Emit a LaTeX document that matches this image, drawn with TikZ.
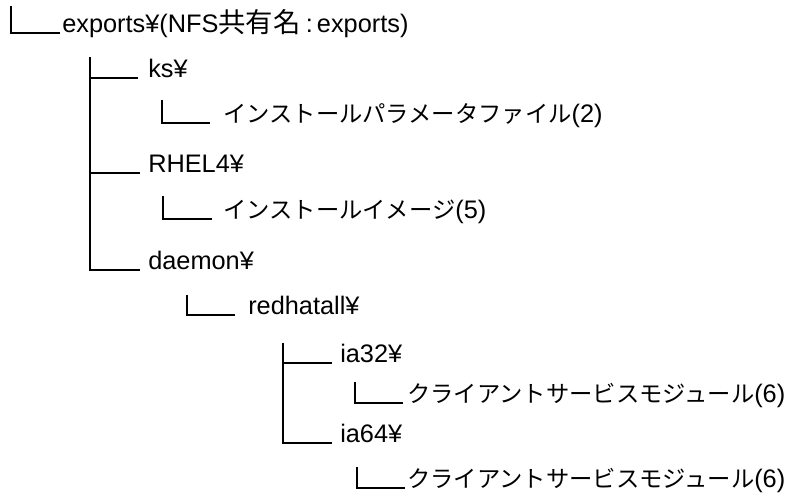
\documentclass[tikz,border=0pt]{standalone}
\usepackage{fontspec}
\setmainfont{Liberation Sans}
\newfontfamily\jp[Scale=0.92]{Noto Sans CJK JP}
\newfontfamily\kanji[Scale=1.08]{Noto Sans CJK JP}
\usetikzlibrary{positioning}

\tikzset{
  dir/.style={anchor=base west, inner sep=0pt, font=\fontsize{19}{23}\selectfont},
  tree/.style={line width=1pt},
}

\begin{document}
\begin{tikzpicture}[x=0.75pt,y=-0.75pt]
  \useasboundingbox (0,0) rectangle (796,498);
  % folders and files
  \node[dir] (exports) at (62,33) {exports¥(NFS{\kanji 共有名}\hspace{4pt}:\hspace{3pt}exports)};
  \node[dir] (ks) at (148,78) {ks¥};
  \node[dir] (ksfile) at (223,123) {{\jp インストールパラメータファイル}(2)};
  \node[dir] (rhel) at (148,173) {RHEL4¥};
  \node[dir] (rhelimg) at (223,219) {{\jp インストールイメージ}(5)};
  \node[dir] (daemon) at (148,270) {daemon¥};
  \node[dir] (redhat) at (248,315) {redhatall¥};
  \node[dir] (ia32) at (340,363) {ia32¥};
  \node[dir] (ia32mod) at (407,403) {{\jp クライアントサービスモジュール}(6)};
  \node[dir] (ia64) at (340,443) {ia64¥};
  \node[dir] (ia64mod) at (407,488) {{\jp クライアントサービスモジュール}(6)};
  % tree lines
  \coordinate (root) at (11,6);
  \coordinate (lv1) at (90,57);
  \coordinate (ksup) at (162,100);
  \coordinate (rhelup) at (163,196);
  \coordinate (daemonup) at (187,295);
  \coordinate (lv3) at (283,343);
  \coordinate (ia32up) at (355,382);
  \coordinate (ia64up) at (357,467);
  \draw[tree] (root) |- ([shift={(-2,0)}]exports.base west);
  \draw[tree] (lv1) |- ([shift={(-8,0)}]daemon.base west);
  \draw[tree] (lv1 |- ks.base) -- ([shift={(-10,0)}]ks.base west);
  \draw[tree] (lv1 |- rhel.base) -- ([shift={(-8,0)}]rhel.base west);
  \draw[tree] (ksup) |- ([shift={(-13,0)}]ksfile.base west);
  \draw[tree] (rhelup) |- ([shift={(-11,0)}]rhelimg.base west);
  \draw[tree] (daemonup) |- ([shift={(-13,0)}]redhat.base west);
  \draw[tree] (lv3) |- ([shift={(-8,0)}]ia64.base west);
  \draw[tree] (lv3 |- ia32.base) -- ([shift={(-8,0)}]ia32.base west);
  \draw[tree] (ia32up) |- ([shift={(-4,0)}]ia32mod.base west);
  \draw[tree] (ia64up) |- ([shift={(-2,0)}]ia64mod.base west);
\end{tikzpicture}
\end{document}
